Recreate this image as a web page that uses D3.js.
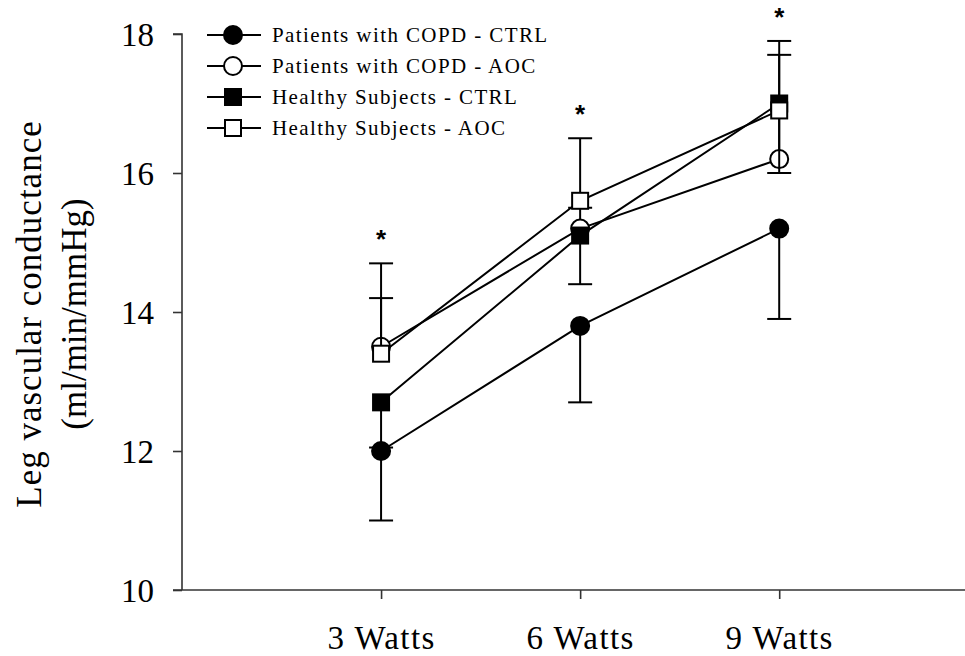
<!DOCTYPE html>
<html>
<head>
<meta charset="utf-8">
<script src="https://cdn.jsdelivr.net/npm/d3@7"></script>
<style>
  html, body { margin: 0; padding: 0; background: #fff; }
  svg { display: block; }
  text { font-family: "Liberation Serif", "Times New Roman", serif; fill: #000; }
</style>
</head>
<body>
<svg id="chart" width="965" height="656"></svg>
<script>
// Exercise loads (Watts) and their tick labels
const watts = [3, 6, 9];
const xTickLabels = ["3 Watts", "6 Watts", "9 Watts"];
const yTicks = [10, 12, 14, 16, 18];

// Group names
const seriesNames = [
  "Patients with COPD - CTRL",
  "Patients with COPD - AOC",
  "Healthy Subjects - CTRL",
  "Healthy Subjects - AOC"
];

// Mean leg vascular conductance (ml/min/mmHg)
const copdCtrl = [12.0, 13.8, 15.2];
const copdAoc = [13.5, 15.2, 16.2];
const healthyCtrl = [12.7, 15.1, 17.0];
const healthyAoc = [13.4, 15.6, 16.9];

// Error bar ends (one-sided: CTRL downward, AOC upward)
const copdCtrlErr = [11.0, 12.7, 13.9];
const copdAocErr = [14.2, 15.5, 17.7];
const healthyCtrlErr = [12.05, 14.4, 16.0];
const healthyAocErr = [14.7, 16.5, 17.9];

// Significance markers
const starLabels = ["*", "*", "*"];

const svg = d3.select("#chart");

const x = d3.scaleLinear().domain([0, 11.8]).range([182, 965]);
const y = d3.scaleLinear().domain([10, 18]).range([590, 34]);

// Y axis
const yAxis = svg.append("g")
  .attr("transform", `translate(${x(0)},0)`)
  .call(d3.axisLeft(y).tickValues(yTicks).tickSize(9).tickPadding(19).tickFormat(d3.format("d")));
yAxis.select(".domain").attr("stroke", "#333").attr("stroke-width", 1.6).attr("d", `M-9,${y(18)}H0V${y(10)}`);
yAxis.selectAll(".tick line").attr("stroke", "#333").attr("stroke-width", 1.6);
yAxis.selectAll(".tick text").style("font-family", "Liberation Serif, serif").style("font-size", "33px").attr("dy", "0.34em");

// X axis
const xAxis = svg.append("g")
  .attr("transform", `translate(0,${y(10)})`)
  .call(d3.axisBottom(x).tickValues(watts).tickSize(9).tickPadding(21)
    .tickFormat((d, i) => xTickLabels[i]));
xAxis.select(".domain").attr("stroke", "#333").attr("stroke-width", 1.6).attr("d", `M${x(0) - 9},0H965`);
xAxis.selectAll(".tick line").attr("stroke", "#333").attr("stroke-width", 1.6);
xAxis.selectAll(".tick text").style("font-family", "Liberation Serif, serif").style("font-size", "33px")
  .style("letter-spacing", "1.4px").attr("dy", "0.88em");

// Y axis title
const yTitle = svg.append("text")
  .attr("transform", "translate(41,314) rotate(-90)")
  .attr("text-anchor", "middle")
  .style("font-size", "35px");
yTitle.append("tspan").attr("x", 0).attr("dy", 0).style("letter-spacing", "1px").text("Leg vascular conductance");
yTitle.append("tspan").attr("x", 0).attr("dy", 45).text("(ml/min/mmHg)");

const series = [
  { name: seriesNames[0], values: copdCtrl, err: copdCtrlErr, shape: "circle", fill: "#000" },
  { name: seriesNames[1], values: copdAoc, err: copdAocErr, shape: "circle", fill: "#fff" },
  { name: seriesNames[2], values: healthyCtrl, err: healthyCtrlErr, shape: "square", fill: "#000" },
  { name: seriesNames[3], values: healthyAoc, err: healthyAocErr, shape: "square", fill: "#fff" }
];

const line = d3.line().x((d, i) => x(watts[i])).y(d => y(d));

function drawMarker(g, shape, fill, cx, cy) {
  if (shape === "circle") {
    g.append("circle").attr("cx", cx).attr("cy", cy).attr("r", 9)
      .attr("fill", fill).attr("stroke", "#000").attr("stroke-width", 2);
  } else {
    g.append("rect").attr("x", cx - 8).attr("y", cy - 8).attr("width", 16).attr("height", 16)
      .attr("fill", fill).attr("stroke", "#000").attr("stroke-width", 2);
  }
}

// Connecting lines
const plot = svg.append("g");
series.forEach(s => {
  plot.append("path").attr("d", line(s.values))
    .attr("fill", "none").attr("stroke", "#000").attr("stroke-width", 2);
});

// Error bars and markers
series.forEach(s => {
  const g = plot.append("g");
  s.values.forEach((v, i) => {
    const cx = x(watts[i]);
    g.append("line").attr("x1", cx).attr("x2", cx).attr("y1", y(v)).attr("y2", y(s.err[i]))
      .attr("stroke", "#000").attr("stroke-width", 2);
    g.append("line").attr("x1", cx - 12).attr("x2", cx + 12).attr("y1", y(s.err[i])).attr("y2", y(s.err[i]))
      .attr("stroke", "#000").attr("stroke-width", 2);
  });
  s.values.forEach((v, i) => drawMarker(g, s.shape, s.fill, x(watts[i]), y(v)));
});

// Significance asterisks above the highest error bar at each load
watts.forEach((w, i) => {
  const top = d3.max(series, s => Math.max(s.values[i], s.err[i]));
  svg.append("text")
    .attr("x", x(w)).attr("y", y(top) - 15)
    .attr("text-anchor", "middle")
    .style("font-family", "Liberation Sans, Arial, sans-serif")
    .style("font-size", "26px").style("font-weight", "bold")
    .text(starLabels[i]);
});

// Legend
const legend = svg.append("g").attr("transform", "translate(207,35)");
series.forEach((s, i) => {
  const row = legend.append("g").attr("transform", `translate(0,${i * 31})`);
  row.append("line").attr("x1", 0).attr("x2", 54).attr("y1", 0).attr("y2", 0)
    .attr("stroke", "#000").attr("stroke-width", 2);
  drawMarker(row, s.shape, s.fill, 26, 0);
  row.append("text").attr("x", 65).attr("y", 0).attr("dy", "0.35em")
    .style("font-size", "21px").style("letter-spacing", "1.4px").text(s.name);
});
</script>
</body>
</html>
